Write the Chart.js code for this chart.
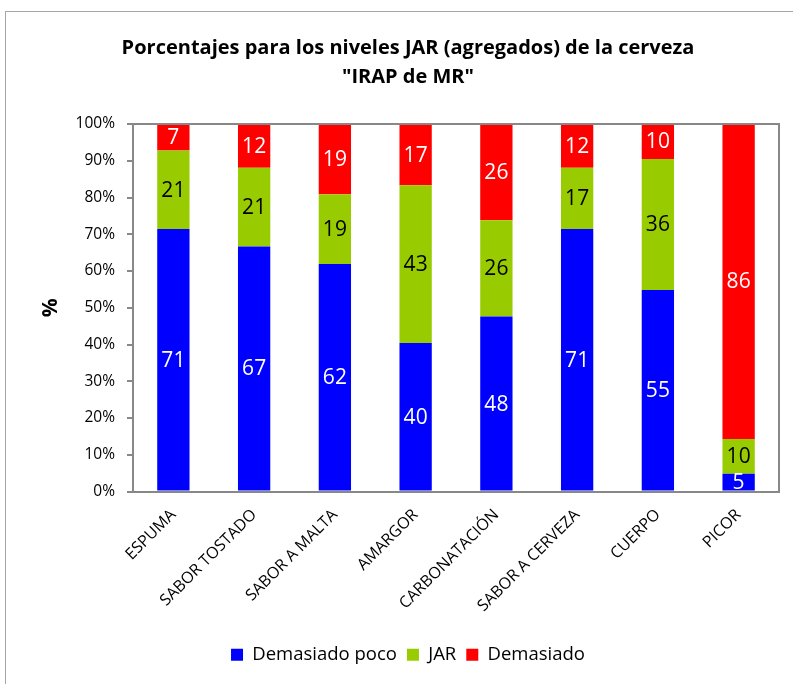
<!DOCTYPE html>
<html>
<head>
<meta charset="utf-8">
<script src="https://cdn.jsdelivr.net/npm/chart.js@4.4.0/dist/chart.umd.min.js"></script>
<style>
  html, body { margin: 0; padding: 0; background: #fff; overflow: hidden; }
  #wrap { width: 816px; height: 684px; }
</style>
</head>
<body>
<div id="wrap"><canvas id="chart" width="816" height="684"></canvas></div>
<script>
// categories and series (percent of answers)
const categories = ['ESPUMA', 'SABOR TOSTADO', 'SABOR A MALTA', 'AMARGOR', 'CARBONATACIÓN', 'SABOR A CERVEZA', 'CUERPO', 'PICOR'];
const tooLittle = [71.4, 66.7, 61.9, 40.4, 47.6, 71.4, 54.8, 4.8];
const jar       = [21.4, 21.4, 19.0, 42.9, 26.2, 16.7, 35.7, 9.5];
const tooMuch   = [7.1, 11.9, 19.0, 16.7, 26.2, 11.9, 9.5, 85.7];
const yTicks    = [0, 10, 20, 30, 40, 50, 60, 70, 80, 90, 100];

const FONT = '"Open Sans", sans-serif';

// frame around the whole chart and the plot area
const framePlugin = {
  id: 'frames',
  beforeDraw(chart) {
    const ctx = chart.ctx;
    ctx.save();
    ctx.strokeStyle = '#a6a6a6';
    ctx.lineWidth = 1;
    ctx.strokeRect(5.5, 11.5, 830, 700);
    ctx.restore();
  },
  afterDatasetsDraw(chart) {
    const a = chart.chartArea;
    const ctx = chart.ctx;
    ctx.save();
    ctx.strokeStyle = '#888';
    ctx.lineWidth = 2;
    ctx.strokeRect(Math.round(a.left), Math.round(a.top), Math.round(a.right - a.left), Math.round(a.bottom - a.top));
    ctx.restore();
  }
};

// value labels in the middle of each segment
const labelPlugin = {
  id: 'segLabels',
  afterDatasetsDraw(chart) {
    const ctx = chart.ctx;
    ctx.save();
    ctx.font = '21px ' + FONT;
    ctx.textAlign = 'center';
    ctx.textBaseline = 'middle';
    chart.data.datasets.forEach((ds, i) => {
      chart.getDatasetMeta(i).data.forEach((bar, j) => {
        const v = ds.data[j];
        const mid = (bar.y + bar.base) / 2;
        ctx.fillStyle = ds.labelColor;
        ctx.fillText(Math.round(v), bar.x, mid + 1);
      });
    });
    ctx.restore();
  }
};

new Chart(document.getElementById('chart'), {
  type: 'bar',
  data: {
    labels: categories,
    datasets: [
      { label: 'Demasiado poco', data: tooLittle, backgroundColor: '#0000ff', labelColor: '#ffffff' },
      { label: 'JAR', data: jar, backgroundColor: '#99cc00', labelColor: '#000000' },
      { label: 'Demasiado', data: tooMuch, backgroundColor: '#ff0000', labelColor: '#ffffff' }
    ]
  },
  options: {
    responsive: false,
    animation: false,
    categoryPercentage: 1.0,
    barPercentage: 0.4,
    layout: { padding: { top: 11, left: 0, right: 0, bottom: 10 } },
    plugins: {
      title: {
        display: true,
        text: ['Porcentajes para los niveles JAR (agregados) de la cerveza', '"IRAP de MR"'],
        color: '#000',
        font: { family: FONT, size: 20, weight: 'bold', lineHeight: 1.45 },
        padding: { top: 23, bottom: 32 }
      },
      legend: {
        position: 'bottom',
        labels: {
          color: '#000',
          font: { family: FONT, size: 18.5 },
          boxWidth: 12,
          boxHeight: 12,
          padding: 10
        }
      },
      tooltip: { enabled: false }
    },
    scales: {
      x: {
        stacked: true,
        grid: { display: false },
        border: { display: false },
        ticks: {
          color: '#000',
          font: { family: FONT, size: 16 },
          minRotation: 45,
          maxRotation: 45,
          padding: 6
        },
        afterFit(scale) { scale.height = 144; }
      },
      y: {
        stacked: true,
        min: 0,
        max: 100,
        grid: { display: true, drawOnChartArea: false, drawTicks: true, tickLength: 6, color: '#888', lineWidth: 2 },
        border: { display: false },
        afterBuildTicks(scale) { scale.ticks = yTicks.map(v => ({ value: v })); },
        ticks: {
          color: '#000',
          font: { family: FONT, size: 15.5 },
          padding: 12,
          callback: v => v + '%'
        },
        title: {
          display: true,
          text: '%',
          color: '#000',
          font: { family: FONT, size: 21, weight: 'bold' },
          padding: { top: 38, bottom: 0 }
        },
        afterFit(scale) { scale.width = 133; }
      },
      // empty right-hand space, keeps title and legend centred on the full frame
      yPad: {
        position: 'right',
        display: true,
        grid: { display: false },
        border: { display: false },
        ticks: { display: false },
        afterFit(scale) { scale.width = 37; }
      }
    }
  },
  plugins: [framePlugin, labelPlugin]
});
</script>
</body>
</html>
